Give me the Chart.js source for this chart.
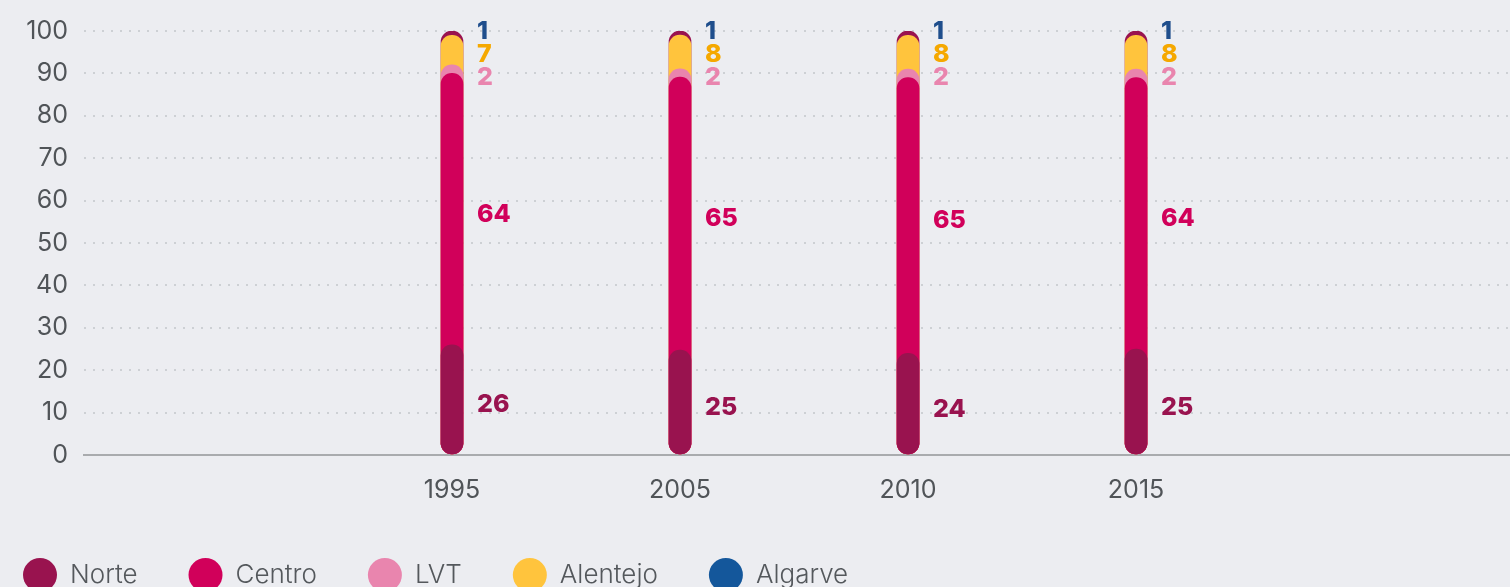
<!DOCTYPE html>
<html lang="pt">
<head>
    <meta charset="UTF-8">
    <title>Distribuição por região</title>
    <script src="https://cdn.jsdelivr.net/npm/chart.js"></script>
    <style>
        html, body { margin: 0; padding: 0; background: #ECEDF1; overflow: hidden; }
    </style>
</head>
<body>
    <canvas id="myChart" width="1510" height="587"></canvas>

    <script>
        // Daten (Anteile in %)
        const years = ['1995', '2005', '2010', '2015'];
        const regions = ['Norte', 'Centro', 'LVT', 'Alentejo', 'Algarve'];
        const norte = [26, 25, 24, 25];
        const centro = [64, 65, 65, 64];
        const lvt = [2, 2, 2, 2];
        const alentejo = [7, 8, 8, 8];
        const algarve = [1, 1, 1, 1];
        const yTicks = [0, 10, 20, 30, 40, 50, 60, 70, 80, 90, 100];

        const series = [norte, centro, lvt, alentejo, algarve];
        const barColors = ['#99134F', '#D1005A', '#E985AE', '#FFC43D', '#99134F'];
        const legendColors = ['#99134F', '#D1005A', '#E985AE', '#FFC43D', '#14579B'];
        const labelColors = ['#99134F', '#D1005A', '#E985AE', '#F5A800', '#1F4E8C'];
        const font = 'Inter, "Open Sans", sans-serif';

        // kumulierte Anteile (auf 100 normiert): jede Säule von 0 bis zur Summe
        const totals = years.map((_, i) => series.reduce((a, s) => a + s[i], 0));
        const cum = [];
        let run = years.map(() => 0);
        series.forEach(s => {
            run = run.map((v, i) => v + s[i]);
            cum.push(run.map((v, i) => v / totals[i] * 100));
        });

        // Beschriftungen rechts neben den Säulen
        const segLabels = {
            id: 'segLabels',
            afterDatasetsDraw(chart) {
                const ctx = chart.ctx;
                const y = chart.scales.y;
                ctx.save();
                ctx.font = '800 25px ' + font;
                ctx.textAlign = 'left';
                ctx.textBaseline = 'middle';
                years.forEach((yr, i) => {
                    let prev = null;
                    for (let d = series.length - 1; d >= 0; d--) {
                        const bar = chart.getDatasetMeta(d).data[i];
                        const lo = d === 0 ? 0 : cum[d - 1][i];
                        const hi = cum[d][i];
                        let py;
                        if (d === series.length - 1) py = y.getPixelForValue(hi);
                        else if (hi - lo > 10) py = y.getPixelForValue((lo + hi) / 2) + 5;
                        else py = y.getPixelForValue((lo + hi) / 2);
                        if (prev !== null && py - prev < 23) py = prev + 23;
                        prev = py;
                        ctx.fillStyle = labelColors[d];
                        ctx.fillText(String(series[d][i]), bar.x + 25, py);
                    }
                });
                ctx.restore();
            }
        };

        const ctx = document.getElementById('myChart').getContext('2d');
        const myChart = new Chart(ctx, {
            type: 'bar',
            data: {
                datasets: regions.map((name, d) => ({
                    label: name,
                    data: cum[d].map((v, i) => ({ x: i, y: v })),
                    backgroundColor: barColors[d],
                    borderRadius: 11,
                    borderSkipped: false,
                    barThickness: 22,
                    grouped: false,
                })),
            },
            options: {
                responsive: false,
                animation: false,
                layout: { padding: { left: -28, top: 28, right: 0, bottom: -11 } },
                plugins: {
                    tooltip: { enabled: false },
                    legend: {
                        position: 'bottom',
                        align: 'start',
                        labels: {
                            usePointStyle: true,
                            pointStyleWidth: 34,
                            boxHeight: 24,
                            padding: 51,
                            color: '#54585c',
                            font: { family: font, size: 26, weight: 300 },
                            generateLabels: () => regions.map((name, i) => ({
                                text: name,
                                fillStyle: legendColors[i],
                                strokeStyle: legendColors[i],
                                lineWidth: 0,
                                pointStyle: 'circle',
                                fontColor: '#54585c',
                                hidden: false,
                                datasetIndex: i,
                            })),
                        },
                    },
                },
                scales: {
                    x: {
                        type: 'linear',
                        offset: false,
                        min: -1.614,
                        max: 4.64,
                        afterBuildTicks: axis => { axis.ticks = years.map((_, i) => ({ value: i })); },
                        afterFit: axis => { axis.height = 56; },
                        ticks: {
                            callback: v => years[v],
                            autoSkip: false,
                            maxRotation: 0,
                            padding: 20,
                            color: '#505458',
                            font: { family: font, size: 25 },
                        },
                        grid: { display: false, drawTicks: false, offset: false },
                        border: { display: true, color: '#a9abae', width: 2 },
                    },
                    y: {
                        min: 0,
                        max: 100,
                        afterBuildTicks: axis => { axis.ticks = yTicks.map(v => ({ value: v })); },
                        afterFit: axis => { axis.width = 112; },
                        ticks: {
                            padding: 16,
                            color: '#505458',
                            font: { family: font, size: 25 },
                        },
                        grid: { color: '#cdd0d4', lineWidth: 2, drawTicks: false },
                        border: { display: false, dash: [2, 7] },
                    },
                },
            },
            plugins: [segLabels],
        });
    </script>
</body>
</html>
